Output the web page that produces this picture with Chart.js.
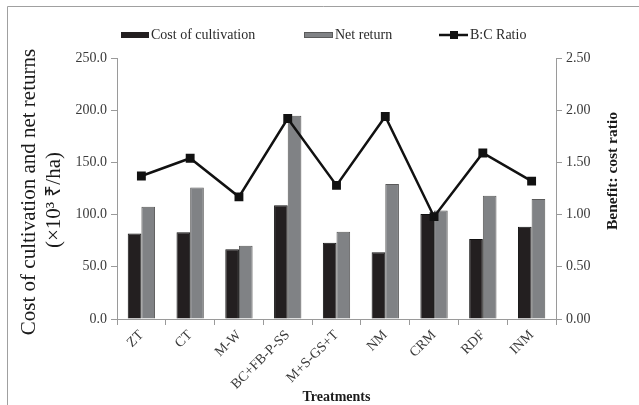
<!DOCTYPE html>
<html>
<head>
<meta charset="utf-8">
<script src="https://cdn.jsdelivr.net/npm/chart.js@4.4.1/dist/chart.umd.min.js"></script>
<style>
html,body{margin:0;padding:0;background:#fff;}
#wrap{position:relative;width:639px;height:405px;}
canvas{display:block;}
</style>
</head>
<body>
<div id="wrap"><canvas id="c" width="639" height="405"></canvas></div>
<script>
const categories = ["ZT","CT","M-W","BC+FB-P-SS","M+S-GS+T","NM","CRM","RDF","INM"];
const costOfCultivation = [82.0, 83.0, 66.7, 109.0, 73.0, 64.0, 100.6, 76.6, 88.4];
const netReturn = [107.6, 126.0, 70.2, 194.7, 83.6, 129.3, 104.0, 118.0, 115.0];
const bcRatio = [1.37, 1.54, 1.17, 1.92, 1.28, 1.94, 0.98, 1.59, 1.32];
const leftTicks = [0, 50, 100, 150, 200, 250];
const rightTicks = [0, 0.5, 1.0, 1.5, 2.0, 2.5];

const SERIF = "'Liberation Serif','Times New Roman',serif";
const TICK_COLOR = '#3a3a3a';
const AXIS_COLOR = '#9a9a9a';

const extras = {
  id: 'extras',
  afterDraw(chart) {
    const ctx = chart.ctx;
    const area = chart.chartArea;
    ctx.save();
    // frame
    ctx.strokeStyle = '#a0a0a0';
    ctx.lineWidth = 1;
    ctx.beginPath();
    ctx.moveTo(7.5, 405);
    ctx.lineTo(7.5, 6.5);
    ctx.lineTo(639, 6.5);
    ctx.stroke();

    // legend
    ctx.font = '14px ' + SERIF;
    ctx.textBaseline = 'middle';
    ctx.textAlign = 'left';
    const ly = 35;
    ctx.fillStyle = '#231f20';
    ctx.fillRect(121, ly - 3, 28, 6);
    ctx.fillStyle = '#2a2a2a';
    ctx.fillText('Cost of cultivation', 151, ly);
    ctx.fillStyle = '#808285';
    ctx.fillRect(304, ly - 3, 29, 6);
    ctx.strokeStyle = '#5a5a5a';
    ctx.strokeRect(304.5, ly - 2.5, 28, 5);
    ctx.fillStyle = '#2a2a2a';
    ctx.fillText('Net return', 335, ly);
    ctx.strokeStyle = '#111';
    ctx.lineWidth = 2.5;
    ctx.beginPath();
    ctx.moveTo(439, ly);
    ctx.lineTo(468, ly);
    ctx.stroke();
    ctx.fillStyle = '#111';
    ctx.fillRect(450, ly - 4, 8, 8);
    ctx.fillStyle = '#2a2a2a';
    ctx.fillText('B:C Ratio', 470, ly);

    // left title
    ctx.fillStyle = '#1a1a1a';
    ctx.textAlign = 'center';
    ctx.save();
    ctx.translate(29, 192);
    ctx.rotate(-Math.PI / 2);
    ctx.font = '21px ' + SERIF;
    ctx.fillText('Cost of cultivation and net returns', 0, 0);
    ctx.restore();
    ctx.save();
    ctx.translate(54, 200);
    ctx.rotate(-Math.PI / 2);
    ctx.font = '21px ' + SERIF;
    ctx.fillText('(\u00d710\u00b3 \u20b9/ha)', 0, 0);
    ctx.restore();

    // right title
    ctx.save();
    ctx.translate(613, 171);
    ctx.rotate(-Math.PI / 2);
    ctx.font = 'bold 15.5px ' + SERIF;
    ctx.fillText('Benefit: cost ratio', 0, 0);
    ctx.restore();

    // x title
    ctx.font = 'bold 14px ' + SERIF;
    ctx.fillText('Treatments', (area.left + area.right) / 2, 397);
    ctx.restore();
  }
};

new Chart(document.getElementById('c'), {
  type: 'bar',
  data: {
    labels: categories,
    datasets: [
      {
        type: 'line',
        label: 'B:C Ratio',
        data: bcRatio,
        yAxisID: 'y1',
        borderColor: '#111',
        backgroundColor: '#111',
        borderWidth: 2.5,
        pointStyle: 'rect',
        pointRadius: 4.5,
        pointHoverRadius: 4.5,
        tension: 0,
        order: 0
      },
      {
        label: 'Cost of cultivation',
        data: costOfCultivation,
        yAxisID: 'y',
        backgroundColor: '#231f20',
        borderColor: '#111',
        borderWidth: 1,
        categoryPercentage: 0.56,
        barPercentage: 1.0,
        order: 1
      },
      {
        label: 'Net return',
        data: netReturn,
        yAxisID: 'y',
        backgroundColor: '#808285',
        borderColor: '#5a5a5a',
        borderWidth: 1,
        categoryPercentage: 0.56,
        barPercentage: 1.0,
        order: 1
      }
    ]
  },
  options: {
    responsive: false,
    animation: false,
    devicePixelRatio: 1,
    layout: { padding: { top: 58, left: 0, right: 0, bottom: 0 } },
    plugins: { legend: { display: false }, tooltip: { enabled: false } },
    scales: {
      x: {
        grid: { display: true, drawOnChartArea: false, offset: true, color: AXIS_COLOR, tickLength: 6 },
        border: { color: AXIS_COLOR },
        ticks: { color: TICK_COLOR, font: { family: SERIF, size: 14 }, minRotation: 45, maxRotation: 45, padding: 2 },
        afterFit(s) { s.height = 86; }
      },
      y: {
        position: 'left',
        min: 0, max: 250,
        afterBuildTicks(s) { s.ticks = leftTicks.map(v => ({ value: v })); },
        grid: { display: true, drawOnChartArea: false, color: AXIS_COLOR, tickLength: 6 },
        border: { color: AXIS_COLOR },
        ticks: { color: TICK_COLOR, font: { family: SERIF, size: 14 }, padding: 4, callback: v => Number(v).toFixed(1) },
        afterFit(s) { s.width = 117; }
      },
      y1: {
        position: 'right',
        min: 0, max: 2.5,
        afterBuildTicks(s) { s.ticks = rightTicks.map(v => ({ value: v })); },
        grid: { display: true, drawOnChartArea: false, color: AXIS_COLOR, tickLength: 6 },
        border: { color: AXIS_COLOR },
        ticks: { color: TICK_COLOR, font: { family: SERIF, size: 14 }, padding: 4, callback: v => Number(v).toFixed(2) },
        afterFit(s) { s.width = 83; }
      }
    }
  },
  plugins: [extras]
});
</script>
</body>
</html>
